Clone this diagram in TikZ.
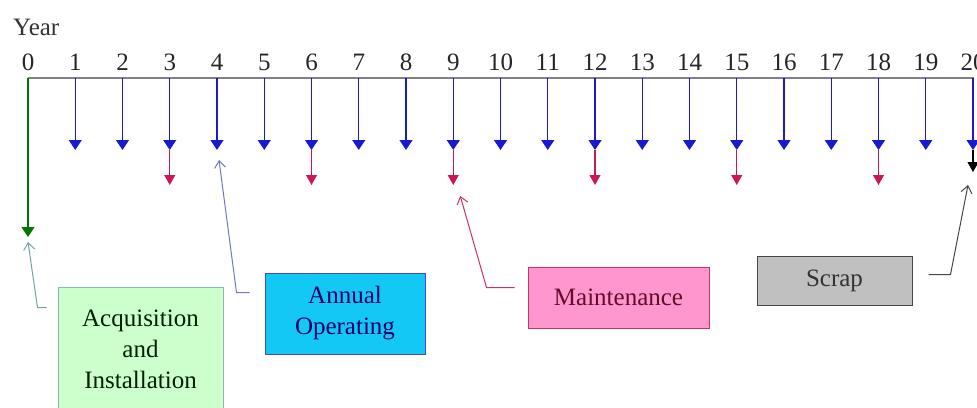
\documentclass[tikz,border=0pt]{standalone}
\usepackage{fontspec}
\setmainfont{Liberation Serif}
\usetikzlibrary{arrows.meta}
\definecolor{axisgray}{RGB}{128,128,128}
\definecolor{opblue}{RGB}{25,25,205}
\definecolor{maintred}{RGB}{200,25,85}
\definecolor{acqgreen}{RGB}{0,120,0}
\definecolor{acqfill}{RGB}{204,255,204}
\definecolor{acqline}{RGB}{110,165,160}
\definecolor{annfill}{RGB}{20,200,245}
\definecolor{annline}{RGB}{110,120,200}
\definecolor{maintfill}{RGB}{255,150,205}
\definecolor{maintline}{RGB}{200,50,100}
\definecolor{scrapfill}{RGB}{192,192,192}
\definecolor{scrapline}{RGB}{70,70,70}

\begin{document}
\begin{tikzpicture}[
	x=1pt, y=-1pt,
	% Styles for the time axis
	yearlabel/.style={font=\fontsize{25}{30}\selectfont, text=black!85, anchor=base, inner sep=0pt},
	costarrow/.style={-{Triangle[width=13pt,length=10pt]}, line width=1.3pt},
	smallarrow/.style={-{Triangle[width=11pt,length=10pt]}, line width=1.1pt},
	% Styles for the cost boxes and their callouts
	costbox/.style={line width=1pt, font=\fontsize{25}{31}\selectfont, align=center, inner sep=0pt},
	callout/.style={-{Straight Barb[length=7pt,width=11pt]}, line width=1pt}
	]
	\useasboundingbox (0,0) rectangle (977,407);
	
	% ==========================================
	% TIME AXIS
	% ==========================================
	\node[yearlabel, anchor=base west, text=black!80] (year) at (13,35) {Year};
	\foreach \i in {0,...,20} {
		\coordinate (t\i) at (28+47.25*\i, 78);
		\coordinate (b\i) at (28+47.25*\i, 150);
		\node[yearlabel] (y\i) at (28+47.25*\i, 70) {\i};
	}
	\draw[axisgray, line width=1.2pt] (t0) -- (t20) -- ++(0,8);
	
	% Annual operating costs every year
	\foreach \i in {1,...,20}
		\draw[costarrow, opblue] (t\i) -- (b\i);
	
	% Maintenance every third year
	\foreach \i in {3,6,...,18} {
		\coordinate (m\i) at (28+47.25*\i, 185);
		\draw[smallarrow, maintred] (b\i) -- (m\i);
	}
	
	% Acquisition at year 0, scrap at year 20
	\coordinate (a0) at (28,237);
	\draw[costarrow, acqgreen] (t0) -- (a0);
	\coordinate (s20) at (973,172);
	\draw[smallarrow, black] (b20) -- (s20);
	
	% ==========================================
	% COST BOXES
	% ==========================================
	\node[costbox, draw=acqline!80, fill=acqfill, text=black!70!green!40!black, minimum width=165pt, minimum height=125pt] (acq) at (140.5,349.5) {Acquisition\\and\\Installation};
	\node[costbox, draw=annline!60!blue, fill=annfill, text=blue!40!black, minimum width=160pt, minimum height=81pt] (ann) at (345,313.5) {Annual\\Operating};
	\node[costbox, draw=maintline, fill=maintfill, text=maintred!50!black, minimum width=181pt, minimum height=61pt] (maint) at (618.5,297.5) {Maintenance};
	\node[costbox, draw=scrapline, fill=scrapfill, text=black!80, minimum width=155pt, minimum height=49pt] (scrap) at (834.5,280.5) {Scrap};
	
	% Callouts from the boxes to the arrows
	\draw[callout, acqline] ([shift={(-11,21)}]acq.north west) -- ++(-9,0) -- ([shift={(0,5)}]a0);
	\draw[callout, annline] ([shift={(-15,20)}]ann.north west) -- ++(-13,0) -- ([shift={(2,10)}]b4);
	\draw[callout, maintline] ([shift={(-13,21)}]maint.north west) -- ++(-28,0) -- ([shift={(7,11)}]m9);
	\draw[callout, scrapline] ([shift={(16,19)}]scrap.north east) -- ++(22,0) -- ([shift={(-5,13)}]s20);
	
\end{tikzpicture}
\end{document}
